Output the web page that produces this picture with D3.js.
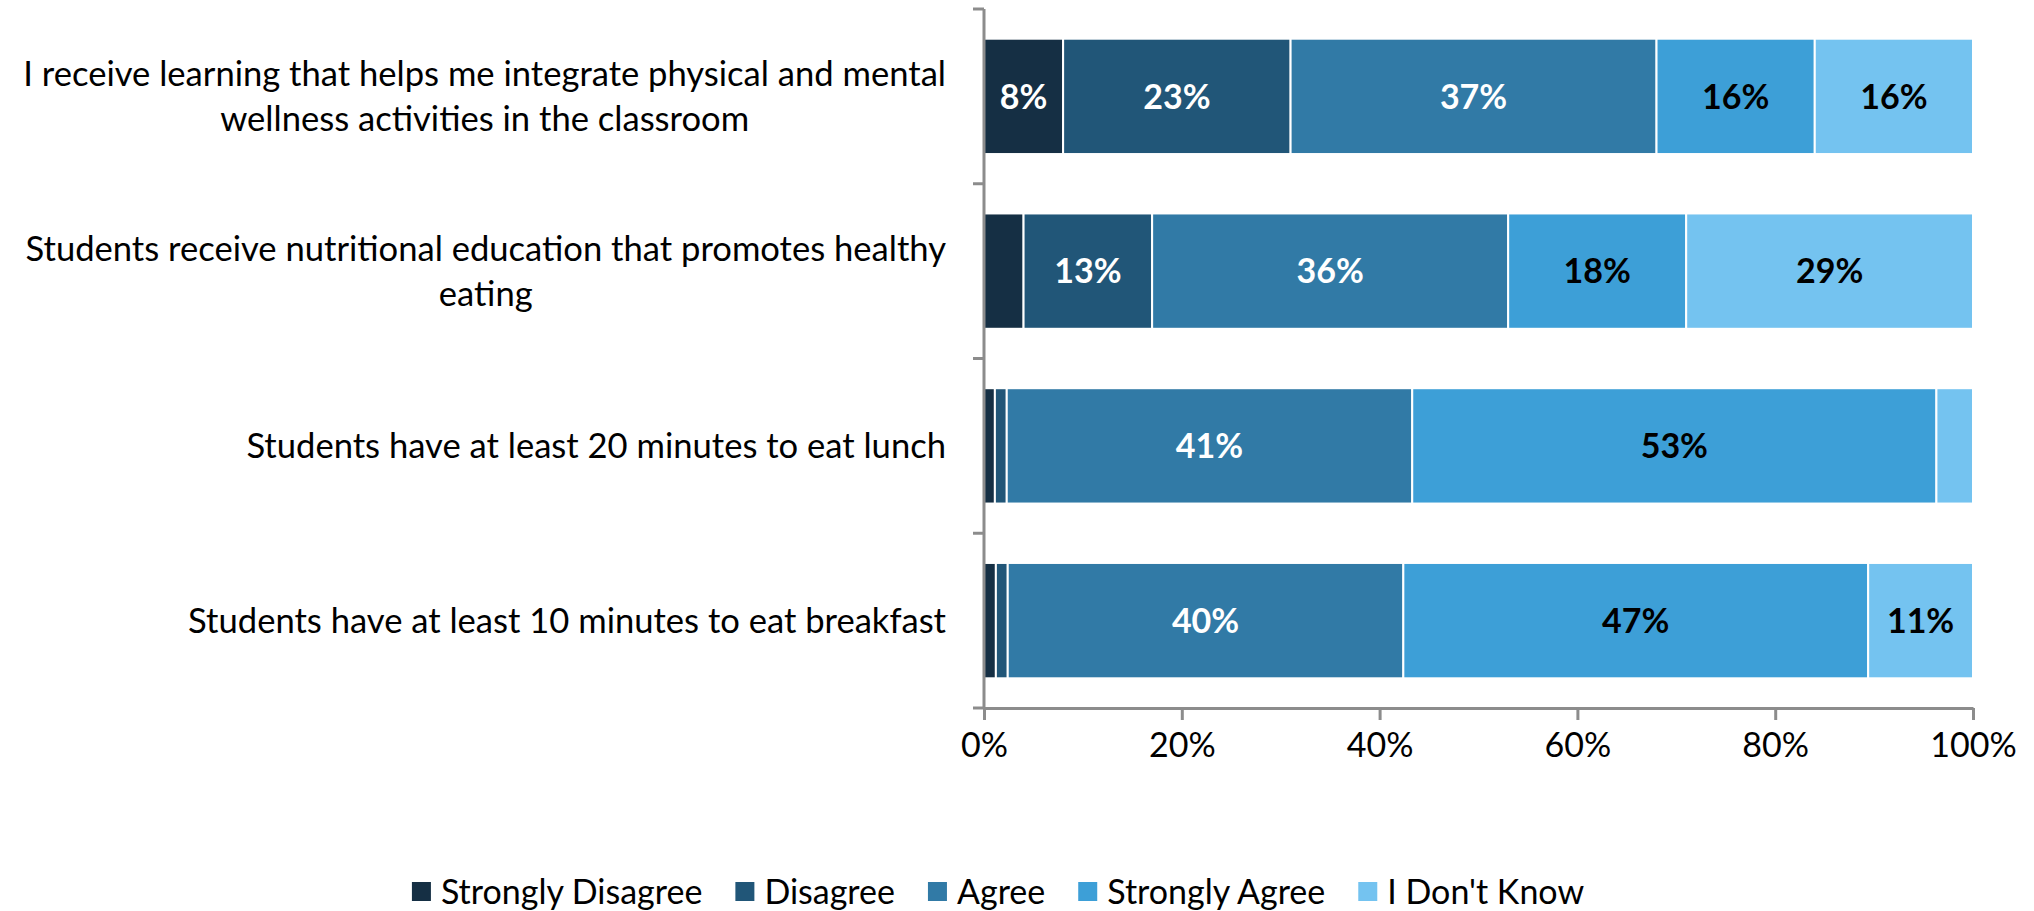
<!DOCTYPE html>
<html>
<head>
<meta charset="utf-8">
<script src="https://cdn.jsdelivr.net/npm/d3@7"></script>
<style>
  html, body { margin: 0; padding: 0; background: #fff; }
  svg { display: block; font-family: Lato, "Open Sans", sans-serif; }
</style>
</head>
<body>
<svg id="chart" width="2034" height="911"></svg>
<script>
// Survey statements (top to bottom), each split over display lines
const categories = [
  "I receive learning that helps me integrate physical and mental wellness activities in the classroom",
  "Students receive nutritional education that promotes healthy eating",
  "Students have at least 20 minutes to eat lunch",
  "Students have at least 10 minutes to eat breakfast"
];
const categoryLines = [
  ["I receive learning that helps me integrate physical and mental", "wellness activities in the classroom"],
  ["Students receive nutritional education that promotes healthy", "eating"],
  ["Students have at least 20 minutes to eat lunch"],
  ["Students have at least 10 minutes to eat breakfast"]
];

const seriesNames = ["Strongly Disagree", "Disagree", "Agree", "Strongly Agree", "I Don't Know"];

// Percent of responses per statement, one array per response option
const stronglyDisagree = [8, 4, 1.1, 1.2];
const disagree         = [23, 13, 1.2, 1.2];
const agree            = [37, 36, 41, 40];
const stronglyAgree    = [16, 18, 53, 47];
const dontKnow         = [16, 29, 3.7, 11];

// Which segments carry a printed value (small slivers stay unlabeled)
const showLabel = [
  [true, true, true, true, true],
  [false, true, true, true, true],
  [false, false, true, true, false],
  [false, false, true, true, true]
];

const xTicks = [0, 20, 40, 60, 80, 100];

const colors = ["#152f44", "#215678", "#317aa6", "#3d9fd7", "#74c3f0"];
const labelColors = ["#ffffff", "#ffffff", "#ffffff", "#000000", "#000000"];

const seriesValues = [stronglyDisagree, disagree, agree, stronglyAgree, dontKnow];

const rows = categories.map((c, i) => {
  const r = { category: c };
  seriesNames.forEach((s, j) => { r[s] = seriesValues[j][i]; });
  return r;
});

const stack = d3.stack().keys(seriesNames);
const stacked = stack(rows);

const svg = d3.select("#chart");
const plot = { left: 984, right: 1973, top: 9, bottom: 708 };
const axisColor = "#8c8c8c";

const x = d3.scaleLinear().domain([0, 100]).range([plot.left, plot.right]);
const y = d3.scaleBand().domain(categories).range([plot.top, plot.bottom])
  .paddingInner(0.34).paddingOuter(0.17);

// Bars
const layers = svg.append("g").selectAll("g")
  .data(stacked).join("g")
  .attr("fill", (d, i) => colors[i]);

layers.selectAll("rect")
  .data(d => d)
  .join("rect")
  .attr("x", d => x(d[0]))
  .attr("y", d => y(d.data.category))
  .attr("width", d => Math.min(x(d[1]), plot.right) - x(d[0]))
  .attr("height", y.bandwidth())
  .attr("stroke", "#ffffff")
  .attr("stroke-width", 2);

// Value labels
svg.append("g").selectAll("g")
  .data(stacked).join("g")
  .each(function(layer, si) {
    d3.select(this).selectAll("text")
      .data(layer.filter((d, ci) => showLabel[ci][si]))
      .join("text")
      .attr("x", d => (x(d[0]) + Math.min(x(d[1]), plot.right)) / 2)
      .attr("y", d => y(d.data.category) + y.bandwidth() / 2)
      .attr("dy", "0.36em")
      .attr("text-anchor", "middle")
      .attr("font-size", 34)
      .attr("font-weight", 700)
      .attr("fill", labelColors[si])
      .text(d => Math.round(d[1] - d[0]) + "%");
  });

// X axis
const xAxis = svg.append("g")
  .attr("transform", `translate(0,${plot.bottom})`)
  .call(d3.axisBottom(x).tickValues(xTicks).tickFormat(d => d + "%")
    .tickSize(12).tickSizeOuter(0).tickPadding(8));
xAxis.select(".domain").attr("stroke", axisColor).attr("stroke-width", 3);
xAxis.selectAll(".tick line").attr("stroke", axisColor).attr("stroke-width", 3);
xAxis.selectAll(".tick text")
  .attr("font-family", "Lato, sans-serif")
  .attr("font-size", 34)
  .attr("fill", "#000")
  .attr("dy", "0.85em");

// Y axis: vertical line plus ticks on the category boundaries
const boundary = d3.scaleLinear().domain([0, categories.length]).range([plot.top, plot.bottom]);
const yAxis = svg.append("g");
yAxis.append("line")
  .attr("x1", plot.left).attr("x2", plot.left)
  .attr("y1", plot.top).attr("y2", plot.bottom)
  .attr("stroke", axisColor).attr("stroke-width", 3);
yAxis.selectAll("line.tick")
  .data(d3.range(categories.length + 1))
  .join("line")
  .attr("class", "tick")
  .attr("x1", plot.left - 11).attr("x2", plot.left)
  .attr("y1", d => boundary(d)).attr("y2", d => boundary(d))
  .attr("stroke", axisColor).attr("stroke-width", 3);

// Category labels: lines centred within a block that is right-aligned to the axis
const labelRight = 946;
const lineHeight = 45;
const labelG = svg.append("g").attr("font-size", 34.6).attr("fill", "#000");
categories.forEach((c, i) => {
  const lines = categoryLines[i];
  const g = labelG.append("g");
  const texts = g.selectAll("text").data(lines).join("text").text(d => d);
  const widths = [];
  texts.each(function() { widths.push(this.getComputedTextLength()); });
  const maxW = d3.max(widths);
  const cx = labelRight - maxW / 2;
  const cy = y(c) + y.bandwidth() / 2;
  const first = cy - (lines.length - 1) * lineHeight / 2;
  texts
    .attr("x", cx)
    .attr("y", (d, k) => first + k * lineHeight)
    .attr("dy", "0.36em")
    .attr("text-anchor", "middle");
});

// Legend
const legend = svg.append("g").attr("font-size", 34);
const items = legend.selectAll("g").data(seriesNames).join("g");
items.append("rect")
  .attr("width", 19).attr("height", 19)
  .attr("y", 882)
  .attr("fill", (d, i) => colors[i]);
items.append("text")
  .attr("x", 29)
  .attr("y", 891.5)
  .attr("dy", "0.36em")
  .attr("fill", "#000")
  .text(d => d);
let cursor = 0;
const offsets = [];
items.each(function() {
  const w = d3.select(this).select("text").node().getComputedTextLength();
  offsets.push(cursor);
  cursor += 29 + w + 33;
});
const legendWidth = cursor - 33;
const legendStart = 998 - legendWidth / 2;
items.attr("transform", (d, i) => `translate(${legendStart + offsets[i]},0)`);
</script>
</body>
</html>
